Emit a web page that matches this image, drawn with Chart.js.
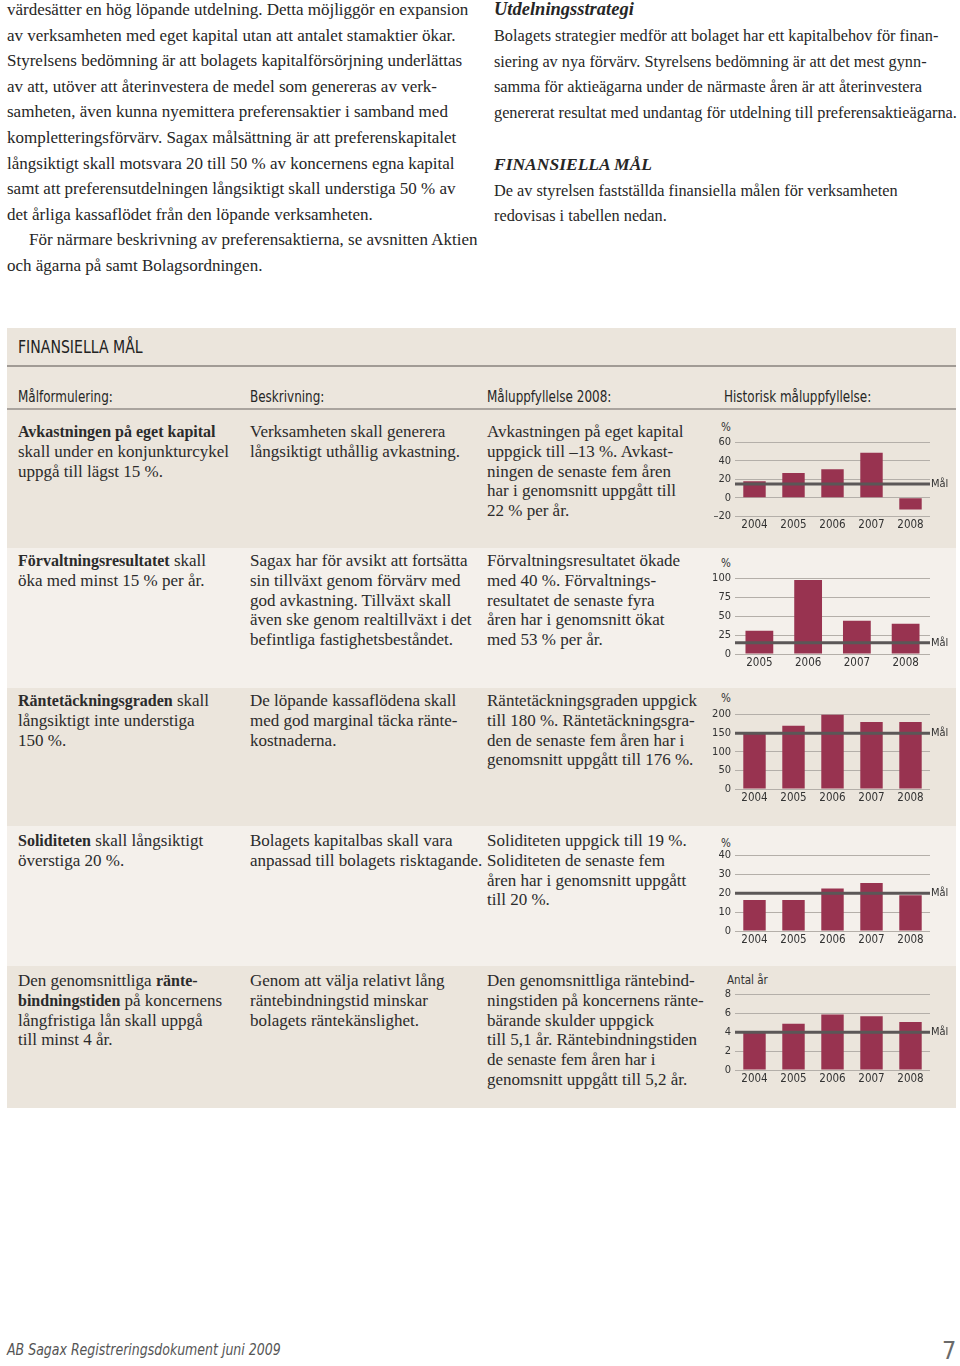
<!DOCTYPE html>
<html lang="sv">
<head>
<meta charset="utf-8">
<title>Finansiella mål</title>
<script src="https://cdn.jsdelivr.net/npm/chart.js@4.4.1/dist/chart.umd.min.js"></script>
<style>
  html, body { margin: 0; padding: 0; background: #ffffff; }
  #page { position: relative; width: 960px; height: 1366px; overflow: hidden; background: #fff; }
  .serif { font-family: "Liberation Serif", "DejaVu Serif", serif; color: #262626; }
  .sans { font-family: "Liberation Sans Narrow", "DejaVu Sans Condensed", "Open Sans", sans-serif; transform-origin: 0 0; }
  .abs { position: absolute; white-space: nowrap; }
  .body-text { font-size: 17px; line-height: 25.6px; }
  .rt { font-size: 16.3px; line-height: 25.8px; }
  .cell { font-size: 17px; line-height: 19.8px; color: #2b2b2b; }
  .cell b { font-size: 16px; }
  .band { position: absolute; left: 7px; width: 949px; }
  .colhead { font-size: 15.5px; color: #262626; transform: scaleX(0.86); }
  canvas { position: absolute; }
  .unit { position: absolute; font-family: "Liberation Sans Narrow", "DejaVu Sans Condensed", sans-serif; font-size: 11.5px; color: #333; white-space: nowrap; }
</style>
</head>
<body>
<div id="page">

  <!-- Left column text -->
  <div class="abs serif body-text" style="left:7px; top:-3px;">
    <div>värdesätter en hög löpande utdelning. Detta möjliggör en expansion</div>
    <div>av verksamheten med eget kapital utan att antalet stamaktier ökar.</div>
    <div>Styrelsens bedömning är att bolagets kapitalförsörjning underlättas</div>
    <div>av att, utöver att återinvestera de medel som genereras av verk-</div>
    <div>samheten, även kunna nyemittera preferensaktier i samband med</div>
    <div>kompletteringsförvärv. Sagax målsättning är att preferenskapitalet</div>
    <div>långsiktigt skall motsvara 20 till 50 % av koncernens egna kapital</div>
    <div>samt att preferensutdelningen långsiktigt skall understiga 50 % av</div>
    <div>det årliga kassaflödet från den löpande verksamheten.</div>
    <div style="padding-left:22px;">För närmare beskrivning av preferensaktierna, se avsnitten Aktien</div>
    <div>och ägarna på samt Bolagsordningen.</div>
  </div>

  <!-- Right column text -->
  <div class="abs serif rt" style="left:494px; top:-3px;">
    <div style="font-weight:bold; font-style:italic; font-size:18.5px;">Utdelningsstrategi</div>
    <div>Bolagets strategier medför att bolaget har ett kapitalbehov för finan-</div>
    <div>siering av nya förvärv. Styrelsens bedömning är att det mest gynn-</div>
    <div>samma för aktieägarna under de närmaste åren är att återinvestera</div>
    <div>genererat resultat med undantag för utdelning till preferensaktieägarna.</div>
    <div>&nbsp;</div>
    <div style="font-weight:bold; font-style:italic; font-size:17.5px;">FINANSIELLA MÅL</div>
    <div>De av styrelsen fastställda finansiella målen för verksamheten</div>
    <div>redovisas i tabellen nedan.</div>
  </div>

  <!-- Table bands -->
  <div class="band" style="top:328px; height:38px; background:#ebe5dc;"></div>
  <div class="band" style="top:365px; height:2px; background:#a19b95;"></div>
  <div class="band" style="top:367px; height:42px; background:#ece6dd;"></div>
  <div class="band" style="top:408px; height:2px; background:#aaa49e;"></div>
  <div class="band" style="top:410px; height:138px; background:#ebe5dc;"></div>
  <div class="band" style="top:548px; height:140px; background:#f4f0eb;"></div>
  <div class="band" style="top:688px; height:138px; background:#ebe5dc;"></div>
  <div class="band" style="top:826px; height:140px; background:#f4f0eb;"></div>
  <div class="band" style="top:966px; height:142px; background:#ebe5dc;"></div>

  <div class="abs sans" style="left:18px; top:337px; font-size:17px; color:#222; transform:scaleX(0.92);">FINANSIELLA MÅL</div>
  <div class="abs sans colhead" style="left:18px; top:388px;">Målformulering:</div>
  <div class="abs sans colhead" style="left:250px; top:388px;">Beskrivning:</div>
  <div class="abs sans colhead" style="left:487px; top:388px;">Måluppfyllelse 2008:</div>
  <div class="abs sans colhead" style="left:724px; top:388px;">Historisk måluppfyllelse:</div>

  <!-- Row 1 -->
  <div class="abs serif cell" style="left:18px; top:422px;">
    <div><b>Avkastningen på eget kapital</b></div>
    <div>skall under en konjunkturcykel</div>
    <div>uppgå till lägst 15 %.</div>
  </div>
  <div class="abs serif cell" style="left:250px; top:422px;">
    <div>Verksamheten skall generera</div>
    <div>långsiktigt uthållig avkastning.</div>
  </div>
  <div class="abs serif cell" style="left:487px; top:422px;">
    <div>Avkastningen på eget kapital</div>
    <div>uppgick till –13 %. Avkast-</div>
    <div>ningen de senaste fem åren</div>
    <div>har i genomsnitt uppgått till</div>
    <div>22 % per år.</div>
  </div>

  <!-- Row 2 -->
  <div class="abs serif cell" style="left:18px; top:551px;">
    <div><b>Förvaltningsresultatet</b> skall</div>
    <div>öka med minst 15 % per år.</div>
  </div>
  <div class="abs serif cell" style="left:250px; top:551px;">
    <div>Sagax har för avsikt att fortsätta</div>
    <div>sin tillväxt genom förvärv med</div>
    <div>god avkastning. Tillväxt skall</div>
    <div>även ske genom realtillväxt i det</div>
    <div>befintliga fastighetsbeståndet.</div>
  </div>
  <div class="abs serif cell" style="left:487px; top:551px;">
    <div>Förvaltningsresultatet ökade</div>
    <div>med 40 %. Förvaltnings-</div>
    <div>resultatet de senaste fyra</div>
    <div>åren har i genomsnitt ökat</div>
    <div>med 53 % per år.</div>
  </div>

  <!-- Row 3 -->
  <div class="abs serif cell" style="left:18px; top:691px;">
    <div><b>Räntetäckningsgraden</b> skall</div>
    <div>långsiktigt inte understiga</div>
    <div>150 %.</div>
  </div>
  <div class="abs serif cell" style="left:250px; top:691px;">
    <div>De löpande kassaflödena skall</div>
    <div>med god marginal täcka ränte-</div>
    <div>kostnaderna.</div>
  </div>
  <div class="abs serif cell" style="left:487px; top:691px;">
    <div>Räntetäckningsgraden uppgick</div>
    <div>till 180 %. Räntetäckningsgra-</div>
    <div>den de senaste fem åren har i</div>
    <div>genomsnitt uppgått till 176 %.</div>
  </div>

  <!-- Row 4 -->
  <div class="abs serif cell" style="left:18px; top:831px;">
    <div><b>Soliditeten</b> skall långsiktigt</div>
    <div>överstiga 20 %.</div>
  </div>
  <div class="abs serif cell" style="left:250px; top:831px;">
    <div>Bolagets kapitalbas skall vara</div>
    <div>anpassad till bolagets risktagande.</div>
  </div>
  <div class="abs serif cell" style="left:487px; top:831px;">
    <div>Soliditeten uppgick till 19 %.</div>
    <div>Soliditeten de senaste fem</div>
    <div>åren har i genomsnitt uppgått</div>
    <div>till 20 %.</div>
  </div>

  <!-- Row 5 -->
  <div class="abs serif cell" style="left:18px; top:971px;">
    <div>Den genomsnittliga <b>ränte-</b></div>
    <div><b>bindningstiden</b> på koncernens</div>
    <div>långfristiga lån skall uppgå</div>
    <div>till minst 4 år.</div>
  </div>
  <div class="abs serif cell" style="left:250px; top:971px;">
    <div>Genom att välja relativt lång</div>
    <div>räntebindningstid minskar</div>
    <div>bolagets räntekänslighet.</div>
  </div>
  <div class="abs serif cell" style="left:487px; top:971px;">
    <div>Den genomsnittliga räntebind-</div>
    <div>ningstiden på koncernens ränte-</div>
    <div>bärande skulder uppgick</div>
    <div>till 5,1 år. Räntebindningstiden</div>
    <div>de senaste fem åren har i</div>
    <div>genomsnitt uppgått till 5,2 år.</div>
  </div>

  <!-- Unit labels -->
  <div class="unit" style="left:721px; top:420px;">%</div>
  <div class="unit" style="left:721px; top:556px;">%</div>
  <div class="unit" style="left:721px; top:691px;">%</div>
  <div class="unit" style="left:721px; top:836px;">%</div>
  <div class="unit" style="left:727px; top:973px;">Antal år</div>

  <canvas id="c1" width="258" height="106"></canvas>
  <canvas id="c2" width="258" height="108"></canvas>
  <canvas id="c3" width="258" height="107"></canvas>
  <canvas id="c4" width="258" height="108"></canvas>
  <canvas id="c5" width="258" height="108"></canvas>

  <!-- Footer -->
  <div class="abs sans" style="left:7px; top:1341px; font-size:15.5px; font-style:italic; color:#555; transform:scaleX(0.9);">AB Sagax Registreringsdokument juni 2009</div>
  <div class="abs sans" style="left:942px; top:1336px; font-size:25px; color:#6a6a6a;">7</div>
</div>

<script>
// ---- Data ----
const years5 = ['2004', '2005', '2006', '2007', '2008'];
const years4 = ['2005', '2006', '2007', '2008'];

const roeValues = [18, 27, 31, 49, -13];          // Avkastning på eget kapital, %
const roeGoal = 15;
const roeTicks = [-20, 0, 20, 40, 60];

const mgmtValues = [31, 98, 44, 40];              // Förvaltningsresultat tillväxt, %
const mgmtGoal = 15;
const mgmtTicks = [0, 25, 50, 75, 100];

const icrValues = [150, 170, 200, 180, 180];      // Räntetäckningsgrad, %
const icrGoal = 150;
const icrTicks = [0, 50, 100, 150, 200];

const equityValues = [16.5, 16.5, 22.5, 25.5, 19]; // Soliditet, %
const equityGoal = 20;
const equityTicks = [0, 10, 20, 30, 40];

const fixedValues = [4.0, 4.9, 5.9, 5.7, 5.1];    // Räntebindningstid, antal år
const fixedGoal = 4;
const fixedTicks = [0, 2, 4, 6, 8];

const goalLabel = 'Mål';

// ---- Chart setup ----
Chart.defaults.font.family = '"Liberation Sans Narrow", "DejaVu Sans Condensed", "Open Sans", sans-serif';
Chart.defaults.color = '#333';

const goalLinePlugin = {
  id: 'goalLine',
  afterDatasetsDraw(chart, args, opts) {
    const y = chart.scales.y.getPixelForValue(opts.value);
    const a = chart.chartArea;
    const ctx = chart.ctx;
    ctx.save();
    ctx.strokeStyle = '#5b5757';
    ctx.lineWidth = 3;
    ctx.beginPath();
    ctx.moveTo(a.left, y);
    ctx.lineTo(a.right, y);
    ctx.stroke();
    ctx.fillStyle = '#333';
    ctx.font = '11px "Liberation Sans Narrow", "DejaVu Sans Condensed", sans-serif';
    ctx.textBaseline = 'middle';
    ctx.textAlign = 'left';
    ctx.fillText(opts.label, a.right + 1, y);
    ctx.restore();
  }
};

function makeChart(id, canvasTop, labels, values, goal, ticks, barPct) {
  const canvas = document.getElementById(id);
  canvas.style.left = '700px';
  canvas.style.top = canvasTop + 'px';
  return new Chart(canvas, {
    type: 'bar',
    data: {
      labels: labels,
      datasets: [{
        data: values,
        backgroundColor: '#983350',
        borderWidth: 0,
        categoryPercentage: 1,
        barPercentage: barPct
      }]
    },
    options: {
      responsive: false,
      devicePixelRatio: 1,
      animation: false,
      layout: { autoPadding: false, padding: { top: 10, right: 28, left: 0, bottom: 0 } },
      plugins: {
        legend: { display: false },
        tooltip: { enabled: false },
        goalLine: { value: goal, label: goalLabel }
      },
      scales: {
        x: {
          grid: { display: false, drawTicks: false },
          border: { display: false },
          ticks: { font: { size: 11.5 }, color: '#333', padding: 2, maxRotation: 0 },
          afterFit(s) { s.height = 22; }
        },
        y: {
          min: ticks[0],
          max: ticks[ticks.length - 1],
          grid: { color: '#b4afa9', lineWidth: 1, drawTicks: false },
          border: { display: false },
          ticks: { font: { size: 11 }, color: '#333', padding: 4,
                   callback: v => String(v).replace('-', '\u2013') },
          afterBuildTicks(s) { s.ticks = ticks.map(v => ({ value: v })); },
          afterFit(s) { s.width = 35; }
        }
      }
    },
    plugins: [goalLinePlugin]
  });
}

// canvasTop = chart area top - 10
makeChart('c1', 432, years5, roeValues, roeGoal, roeTicks, 0.575);
makeChart('c2', 568, years4, mgmtValues, mgmtGoal, mgmtTicks, 0.57);
makeChart('c3', 704, years5, icrValues, icrGoal, icrTicks, 0.575);
makeChart('c4', 845, years5, equityValues, equityGoal, equityTicks, 0.575);
makeChart('c5', 984, years5, fixedValues, fixedGoal, fixedTicks, 0.575);
</script>
</body>
</html>
